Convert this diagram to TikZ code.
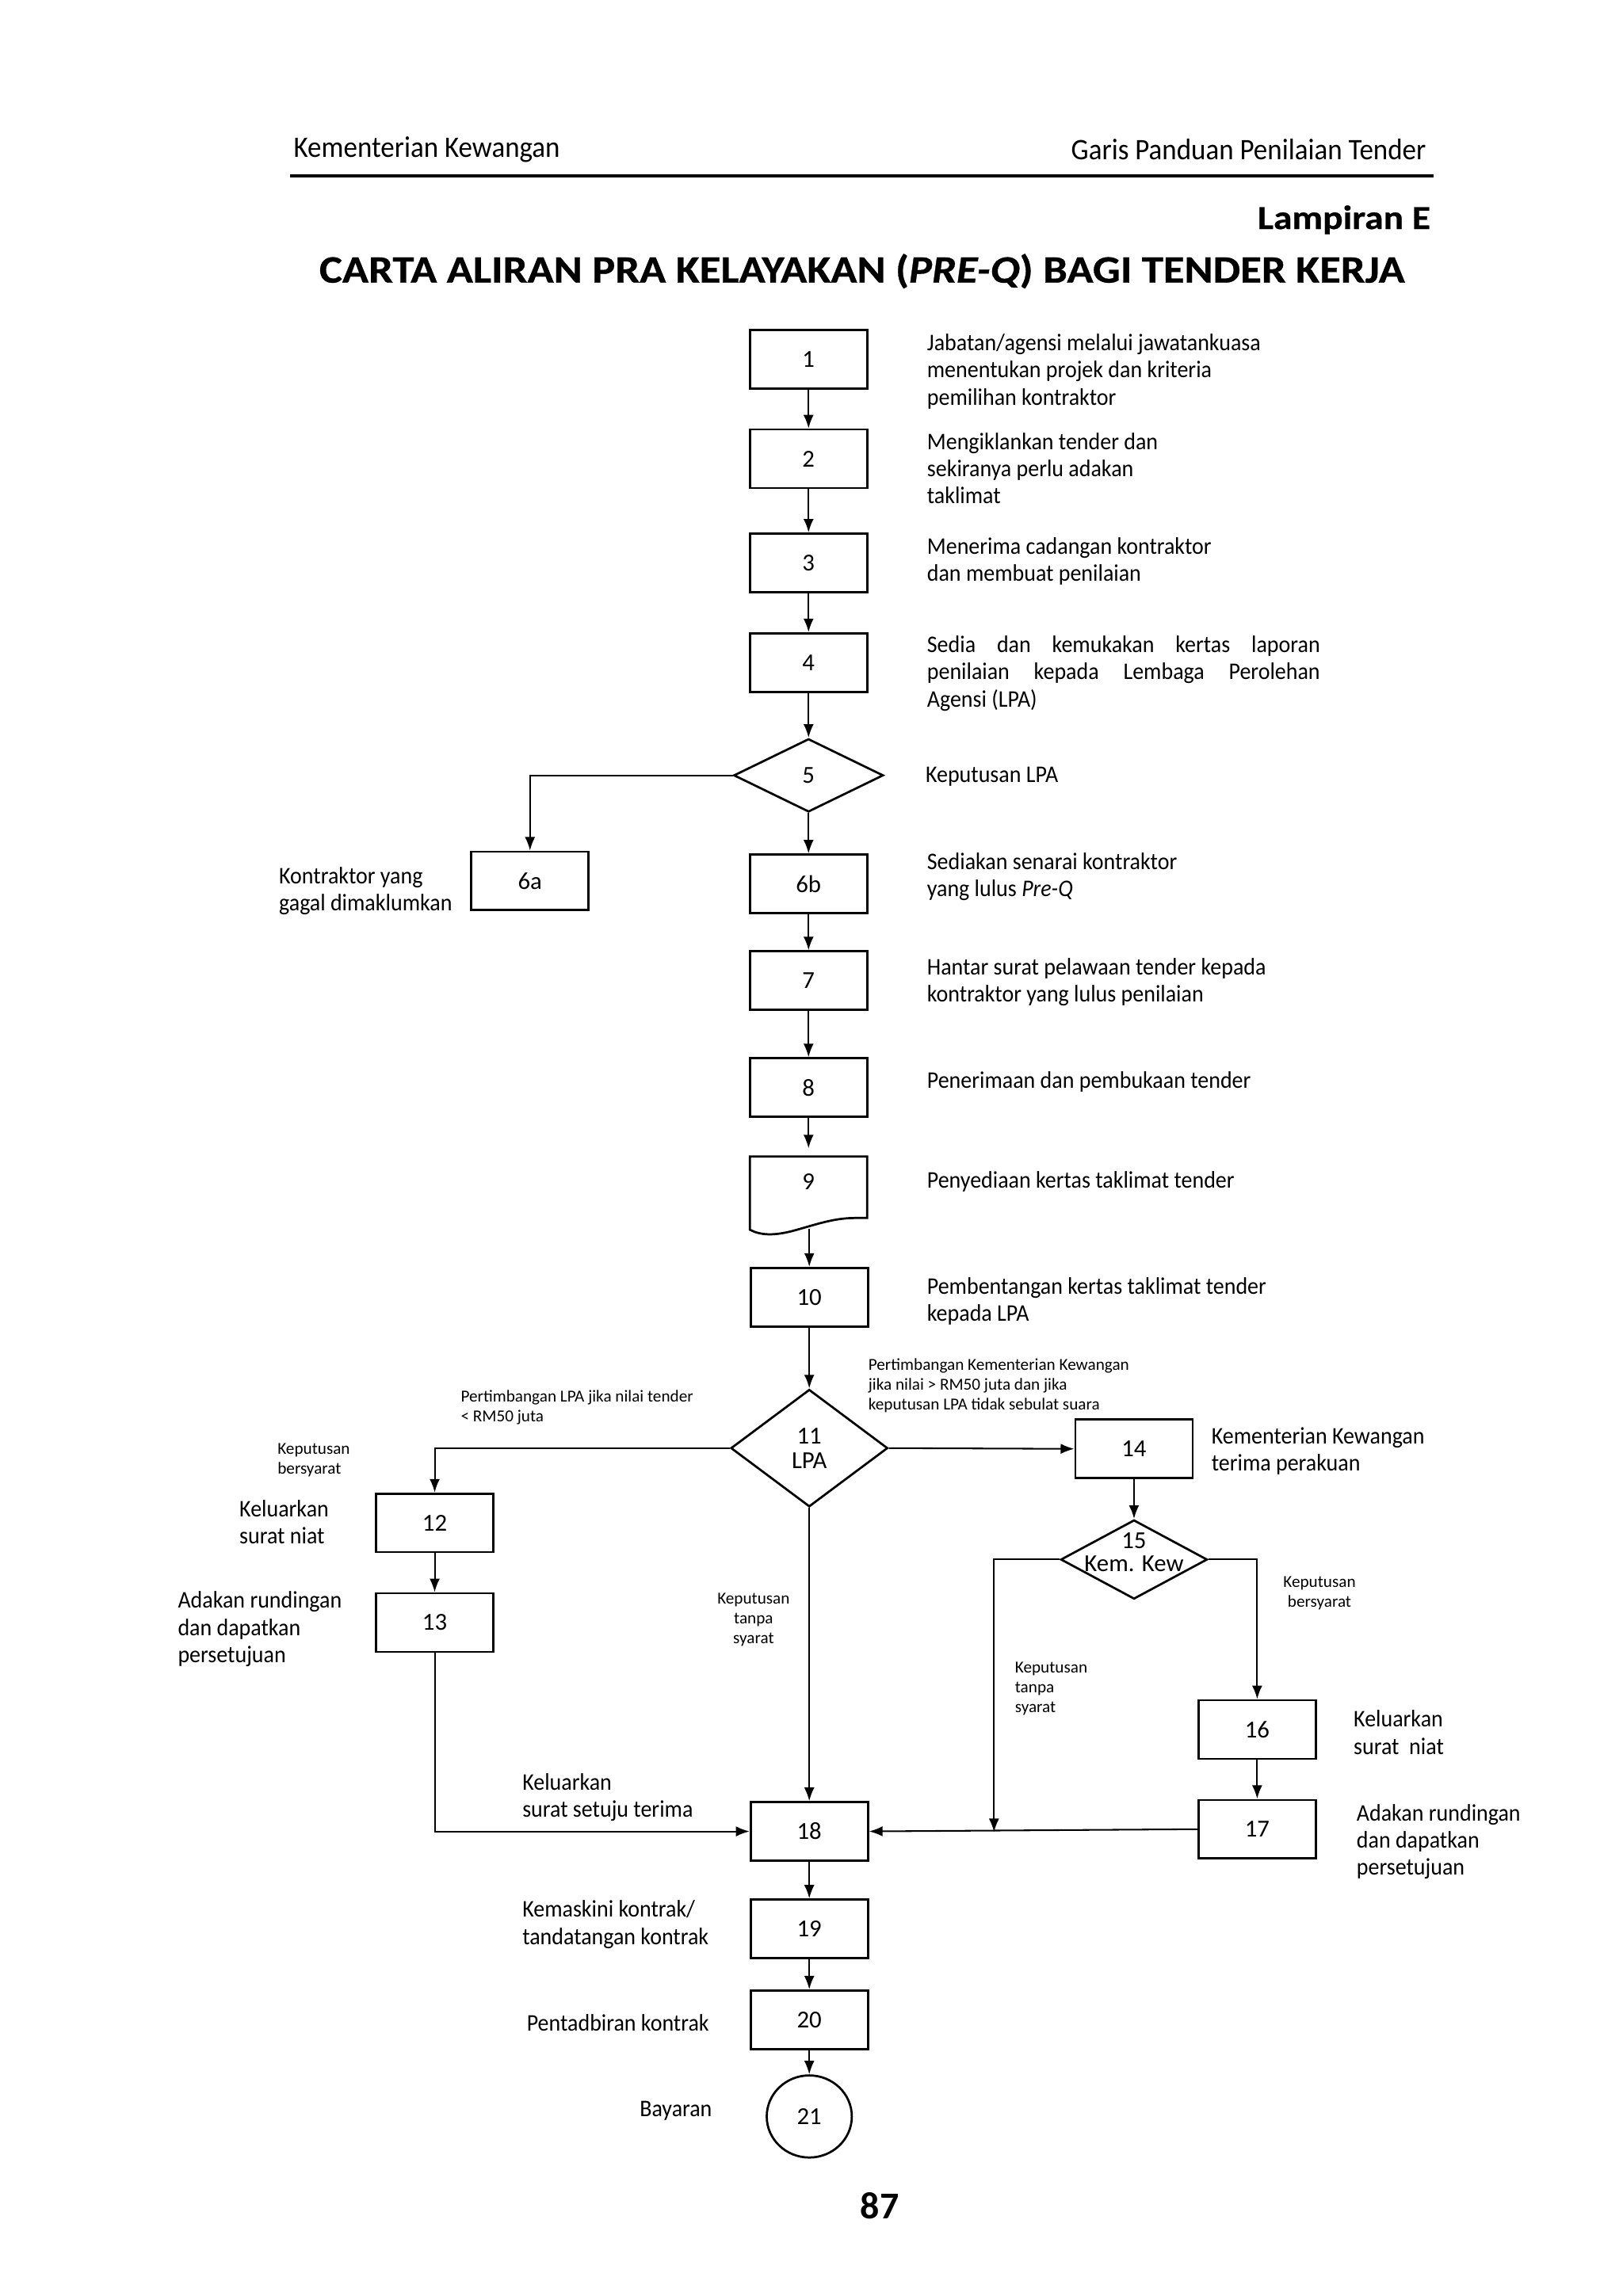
\documentclass[tikz,border=0pt]{standalone}
\usepackage{fontspec}
\setmainfont{Carlito}
\newfontfamily\titlefont[FakeStretch=1.12,FakeBold=0.6]{Carlito}
\newfontfamily\descfont[FakeStretch=0.93]{Carlito}
\usetikzlibrary{shapes.geometric,arrows.meta}
\begin{document}
\begin{tikzpicture}[x=0.541pt,y=-0.541pt,
  box/.style={draw,line width=0.8pt,minimum width=43.3pt,minimum height=21.6pt,inner sep=0pt,font=\fontsize{9}{10}\selectfont},
  dec/.style={draw,diamond,line width=0.8pt,inner sep=0pt,font=\fontsize{9}{9}\selectfont,align=center},
  desc/.style={font=\descfont\fontsize{8.8}{10}\selectfont,align=left,inner sep=0pt,anchor=west},
  tiny/.style={font=\fontsize{6.2}{7.3}\selectfont,align=left,inner sep=0pt,anchor=west},
  arr/.style={-{Latex[length=5pt,width=3.8pt]},line width=0.6pt},
  ln/.style={line width=0.6pt}]
\useasboundingbox (0,0) rectangle (1107,1566.5);
% header
\node[font=\descfont\fontsize{11}{12}\selectfont,anchor=west,inner sep=0pt] (hl) at (200,102) {Kementerian Kewangan};
\node[font=\descfont\fontsize{11}{12}\selectfont,anchor=east,inner sep=0pt] (hr) at (973,102) {Garis Panduan Penilaian Tender};
\coordinate (rl) at (198,120);
\coordinate (rr) at (978,120);
\draw[line width=0.9pt] (rl) -- (rr);
\node[font=\titlefont\bfseries\fontsize{12.4}{14}\selectfont,anchor=east,inner sep=0pt] (lamp) at (976,150) {Lampiran E};
\node[font=\titlefont\bfseries\fontsize{14.3}{15}\selectfont,inner sep=0pt] (title) at (588,185) {CARTA ALIRAN PRA KELAYAKAN (\textit{PRE-Q}) BAGI TENDER KERJA};
% boxes
\node[box] (n1) at (551.5,245) {1};
\node[box] (n2) at (551.5,313) {2};
\node[box] (n3) at (551.5,384) {3};
\node[box] (n4) at (551.5,452) {4};
\node[dec,minimum width=55.2pt,minimum height=27pt] (n5) at (551.5,529) {5};
\node[box] (n6a) at (361.5,601) {6a};
\node[box] (n6b) at (551.5,603) {6b};
\node[box] (n7) at (551.5,669) {7};
\node[box] (n8) at (551.5,742) {8};
\node[minimum width=43.3pt,minimum height=24pt,inner sep=0pt,font=\fontsize{9}{10}\selectfont] (n9) at (551.5,806) {9};
\draw[line width=0.8pt] (511.5,789) -- (591.5,789) -- (591.5,831) -- (583,831)
  .. controls (568,831) and (555,836) .. (540,840)
  .. controls (528,843) and (519,843) .. (511.5,839) -- cycle;
\coordinate (n9b) at (552,838.5);
\node[box] (n10) at (552,885) {10};
\node[dec,minimum width=57.9pt,minimum height=43.3pt] (n11) at (552,988) {11\\LPA};
\node[box] (n12) at (296.5,1039) {12};
\node[box] (n13) at (296.5,1107) {13};
\node[box] (n14) at (773.5,988.5) {14};
\node[dec,minimum width=54.1pt,minimum height=29.2pt] (n15) at (773.5,1064)
  {\raisebox{-4.4pt}[0pt][0pt]{\makebox[0pt]{\shortstack{15\\[-0.5pt]Kem. Kew}}}};
\node[box] (n16) at (857.5,1180) {16};
\node[box] (n17) at (857.5,1248) {17};
\node[box] (n18) at (552,1249.5) {18};
\node[box] (n19) at (552,1316) {19};
\node[box] (n20) at (552,1378) {20};
\node[draw,ellipse,line width=0.8pt,minimum width=31.4pt,minimum height=30.3pt,inner sep=0pt,font=\fontsize{9}{10}\selectfont] (n21) at (552,1444) {21};
\coordinate (j1) at (678,1250);
% connectors
\draw[arr] (n1) -- (n2);
\draw[arr] (n2) -- (n3);
\draw[arr] (n3) -- (n4);
\draw[arr] (n4) -- (n5);
\draw[arr] (n5.west) -| (n6a.north);
\draw[arr] (n5) -- (n6b);
\draw[arr] (n6b) -- (n7);
\draw[arr] (n7) -- (n8);
\draw[arr] (n8) -- (n9.north);
\draw[arr] (n9b) -- (n10.north);
\draw[arr] (n10) -- (n11);
\draw[arr] (n11.west) -| (n12.north);
\draw[arr] (n11.east) -- (n14.west);
\draw[arr] (n11.south) -- (n18.north);
\draw[arr] (n12) -- (n13);
\draw[arr] (n13.south) |- (n18.west);
\draw[arr] (n14) -- (n15);
\draw[arr] (n15.west) -| (j1);
\draw[arr] (n15.east) -| (n16.north);
\draw[arr] (n16) -- (n17);
\draw[arr] (n17.west) -- (n18.east);
\draw[arr] (n18) -- (n19);
\draw[arr] (n19) -- (n20);
\draw[arr] (n20) -- (n21);
% texts
\node[desc] (t1) at (632,253.5) {Jabatan/agensi melalui jawatankuasa\\menentukan projek dan kriteria\\pemilihan kontraktor};
\node[desc] (t2) at (632,319.5) {Mengiklankan tender dan\\sekiranya perlu adakan\\taklimat};
\node[desc] (t3) at (632,383) {Menerima cadangan kontraktor\\dan membuat penilaian};
\node[desc] (t4) at (632,459.5) {\makebox[145pt][s]{Sedia dan kemukakan kertas laporan}\\\makebox[145pt][s]{penilaian kepada Lembaga Perolehan}\\Agensi (LPA)};
\node[desc] (t5) at (631,530) {Keputusan LPA};
\node[desc] (t6a) at (190,608) {Kontraktor yang\\gagal dimaklumkan};
\node[desc] (t6b) at (632,598) {Sediakan senarai kontraktor\\yang lulus \textit{Pre-Q}};
\node[desc] (t7) at (632,670) {Hantar surat pelawaan tender kepada\\kontraktor yang lulus penilaian};
\node[desc] (t8) at (632,738) {Penerimaan dan pembukaan tender};
\node[desc] (t9) at (632,806) {Penyediaan kertas taklimat tender};
\node[desc] (t10) at (632,888) {Pembentangan kertas taklimat tender\\kepada LPA};
\node[tiny] (t11r) at (592,945.5) {Pertimbangan Kementerian Kewangan\\jika nilai > RM50 juta dan jika\\keputusan LPA tidak sebulat suara};
\node[tiny] (t11l) at (314,960) {Pertimbangan LPA jika nilai tender\\< RM50 juta};
\node[tiny] (tk1) at (189,996) {Keputusan\\bersyarat};
\node[desc] (t12) at (163,1038.5) {Keluarkan\\surat niat};
\node[desc] (t13) at (121,1111.5) {Adakan rundingan\\dan dapatkan\\persetujuan};
\node[tiny,anchor=center,align=center] (tk2) at (514,1105) {Keputusan\\tanpa\\syarat};
\node[desc] (t14) at (826,990) {Kementerian Kewangan\\terima perakuan};
\node[tiny,anchor=center,align=center] (tk3) at (900,1087) {Keputusan\\bersyarat};
\node[tiny] (tk4) at (692,1152) {Keputusan\\tanpa\\syarat};
\node[desc] (t16) at (923,1182) {Keluarkan\\surat~~niat};
\node[desc] (t17) at (925,1256.5) {Adakan rundingan\\dan dapatkan\\persetujuan};
\node[desc] (t18) at (356,1226.5) {Keluarkan\\surat setuju terima};
\node[desc] (t19) at (356,1313) {Kemaskini kontrak/\\tandatangan kontrak};
\node[desc] (t20) at (359,1380) {Pentadbiran kontrak};
\node[desc,anchor=east] (t21) at (486,1440) {Bayaran};
\node[font=\bfseries\fontsize{14}{15}\selectfont,inner sep=0pt] (pg) at (600,1505) {87};
\end{tikzpicture}
\end{document}
